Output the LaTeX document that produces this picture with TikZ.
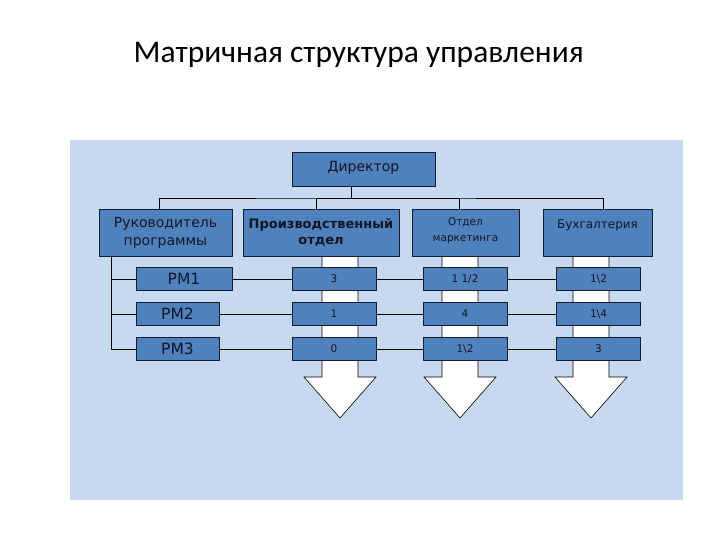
\documentclass[tikz,border=0pt]{standalone}
\usepackage{fontspec}
\setmainfont{DejaVu Sans}
\newfontfamily\titlefont{Carlito}
\definecolor{panelBlue}{RGB}{198,217,240}
\definecolor{boxBlue}{RGB}{79,129,189}
\definecolor{edgeDark}{RGB}{22,28,45}
\definecolor{textDark}{RGB}{18,22,38}

\begin{document}
\begin{tikzpicture}[
  x=1pt, y=-1pt,
  line width=0.7pt,
  box/.style={
    draw=edgeDark,
    fill=boxBlue,
    inner sep=0pt,
    align=center,
    text=textDark,
    font=\fontsize{14}{18.5}\selectfont,
  },
  topbox/.style={box, minimum height=47pt},
  rowbox/.style={box, minimum height=23pt, font=\fontsize{15.5}{18}\selectfont},
  cell/.style={rowbox, minimum width=84pt, font=\fontsize{10.5}{12}\selectfont},
  band/.style={fill=white, draw=black, line width=0.6pt},
  link/.style={draw=black, line width=0.7pt},
]
  \useasboundingbox (0,0) rectangle (720,540);

  \node[anchor=base west, font=\titlefont\fontsize{31.5}{36}\selectfont] (title)
    at (130,63) {Матричная структура управления};

  \fill[panelBlue] (70,140) rectangle (683,500);

  % white columns ending in arrows
  \foreach \cx in {340,460,591} {
    \filldraw[band] (\cx-18,256) -- (\cx-18,377) -- (\cx-36,377)
      -- (\cx,418) -- (\cx+36,377) -- (\cx+18,377) -- (\cx+18,256);
  }

  \node[box, minimum width=143pt, minimum height=34pt, text depth=5pt] (dir)
    at (363.5,169) {Директор};

  \node[topbox, minimum width=133pt] (ruk) at (165.5,233)
    {Руководитель\\программы};
  \node[topbox, minimum width=156pt, font=\bfseries\fontsize{13}{16}\selectfont]
    (proizv) at (321,232.5) {Производственный\\отдел};
  \node[topbox, minimum width=107pt, font=\fontsize{10.5}{16}\selectfont, text depth=6pt]
    (mark) at (465.5,232.5) {Отдел\\маркетинга};
  \node[topbox, minimum width=109pt, font=\fontsize{12}{15}\selectfont, text depth=16pt]
    (buh) at (597.5,232.5) {Бухгалтерия};

  \node[rowbox, minimum width=96pt] (pm1) at (184,279) {PM1};
  \node[rowbox, minimum width=83pt] (pm2) at (177.5,314) {PM2};
  \node[rowbox, minimum width=83pt] (pm3) at (177.5,349) {PM3};

  \node[cell] (c11) at (334,279) {3};
  \node[cell] (c12) at (465,279) {1 1/2};
  \node[cell] (c13) at (598.5,279) {1\textbackslash2};
  \node[cell] (c21) at (334,314) {1};
  \node[cell] (c22) at (465,314) {4};
  \node[cell] (c23) at (598.5,314) {1\textbackslash4};
  \node[cell] (c31) at (334,349) {0};
  \node[cell] (c32) at (465,349) {1\textbackslash2};
  \node[cell] (c33) at (598.5,349) {3};

  % director to departments
  \coordinate (bus) at (351,198);
  \draw[link] ([xshift=-12.5pt]dir.south) -- (bus);
  \draw[link] ([xshift=-6.5pt]ruk.north) |- (bus) -| ([xshift=5.5pt]buh.north);
  \draw[link] ([xshift=-5pt]proizv.north) |- (bus);
  \draw[link] ([xshift=-6.5pt]mark.north) |- (bus);

  % program managers
  \coordinate (spine) at ([xshift=13pt]ruk.south west);
  \draw[link] (spine) |- (pm3.west);
  \draw[link] (pm1.west) -- (pm1.west -| spine);
  \draw[link] (pm2.west) -- (pm2.west -| spine);

  \draw[link] (pm1) -- (c11) -- (c12) -- (c13);
  \draw[link] (pm2) -- (c21) -- (c22) -- (c23);
  \draw[link] (pm3) -- (c31) -- (c32) -- (c33);

\end{tikzpicture}
\end{document}
